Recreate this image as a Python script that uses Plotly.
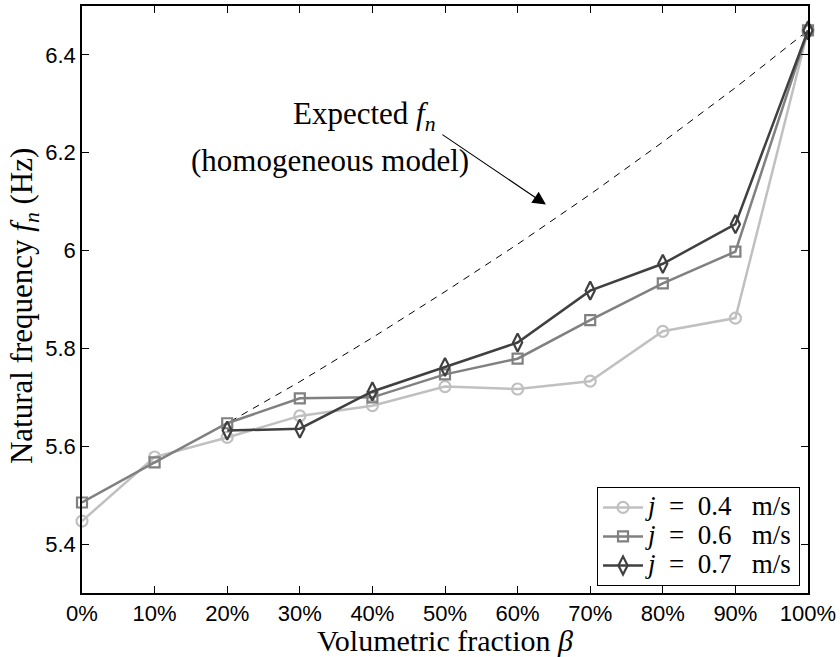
import plotly.graph_objects as go

# ---- data ----
x_pct = [0, 10, 20, 30, 40, 50, 60, 70, 80, 90, 100]
tick_labels = ["0%", "10%", "20%", "30%", "40%", "50%", "60%", "70%", "80%", "90%", "100%"]

f_j04 = [5.447, 5.578, 5.618, 5.662, 5.683, 5.722, 5.717, 5.733, 5.835, 5.862, 6.45]
f_j06 = [5.485, 5.567, 5.647, 5.698, 5.700, 5.747, 5.779, 5.858, 5.933, 5.998, 6.45]
x_j07 = [20, 30, 40, 50, 60, 70, 80, 90, 100]
f_j07 = [5.632, 5.636, 5.712, 5.762, 5.812, 5.918, 5.973, 6.054, 6.45]

f_expected = [5.485, 5.567, 5.647, 5.732, 5.822, 5.916, 6.013, 6.115, 6.222, 6.333, 6.45]

y_ticks = [5.4, 5.6, 5.8, 6.0, 6.2, 6.4]
y_tick_labels = ["5.4", "5.6", "5.8", "6", "6.2", "6.4"]

j_values = ["0.4", "0.6", "0.7"]

SERIF = "Liberation Serif, Times New Roman, serif"
SANS = "Liberation Sans, Arial, sans-serif"


def legend_name(v):
    return ("<span style='font-size:27px'><i>j</i>&nbsp;&nbsp;=&nbsp;&nbsp;"
            + v + "&nbsp;&nbsp;&nbsp;m/s</span>")


fig = go.Figure()

fig.add_trace(go.Scatter(
    x=x_pct, y=f_expected, mode="lines",
    line=dict(color="black", width=1, dash="7px,6px"),
    showlegend=False, cliponaxis=False))

fig.add_trace(go.Scatter(
    x=x_pct, y=f_j04, mode="lines+markers", name=legend_name(j_values[0]),
    line=dict(color="#c0c0c0", width=2.5),
    marker=dict(symbol="circle-open", size=11, color="#c0c0c0", line=dict(width=2.2)),
    cliponaxis=False))

fig.add_trace(go.Scatter(
    x=x_pct, y=f_j06, mode="lines+markers", name=legend_name(j_values[1]),
    line=dict(color="#808080", width=2.5),
    marker=dict(symbol="square-open", size=10, color="#808080", line=dict(width=2.2)),
    cliponaxis=False))

fig.add_trace(go.Scatter(
    x=x_j07, y=f_j07, mode="lines+markers", name=legend_name(j_values[2]),
    line=dict(color="#404040", width=2.5),
    marker=dict(symbol="diamond-tall-open", size=13, color="#404040", line=dict(width=2.2)),
    cliponaxis=False))

# annotation text and arrow
fig.add_annotation(
    x=0.389, y=0.812, xref="paper", yref="paper",
    text="Expected <i>f<sub>n</sub></i>",
    showarrow=False, font=dict(family=SERIF, size=31, color="black"),
    xanchor="center", yanchor="middle")
fig.add_annotation(
    x=0.342, y=0.737, xref="paper", yref="paper",
    text="(homogeneous model)",
    showarrow=False, font=dict(family=SERIF, size=31, color="black"),
    xanchor="center", yanchor="middle")
fig.add_annotation(
    x=63.9, y=6.094, xref="x", yref="y", text="",
    showarrow=True, ax=-105, ay=-71, arrowhead=2, arrowsize=2.4,
    arrowwidth=1.1, arrowcolor="black")

# y-axis title
fig.add_annotation(
    x=-0.0797, y=0.489, xref="paper", yref="paper",
    text="Natural frequency <i>f<sub>n</sub></i> (Hz)", textangle=-90,
    showarrow=False, font=dict(family=SERIF, size=31, color="black"),
    xanchor="center", yanchor="middle")

fig.update_layout(
    width=840, height=657,
    margin=dict(l=82, r=31, t=4, b=64),
    paper_bgcolor="white", plot_bgcolor="white",
    showlegend=True,
    legend=dict(
        x=0.989, y=0.012, xanchor="right", yanchor="bottom",
        bgcolor="white", bordercolor="black", borderwidth=1,
        font=dict(family=SERIF, size=20, color="black"),
        tracegroupgap=0, itemwidth=40),
)

fig.update_xaxes(
    range=[0, 100], tickmode="array", tickvals=x_pct, ticktext=tick_labels,
    ticks="inside", ticklen=7, tickcolor="black", tickwidth=1,
    showline=True, linecolor="black", linewidth=1.5, mirror="ticks",
    showgrid=False, zeroline=False, ticklabeloverflow="allow",
    tickfont=dict(family=SANS, size=22, color="black"),
    title=dict(text="Volumetric fraction <i>β</i>", standoff=5,
               font=dict(family=SERIF, size=30, color="black")))

fig.update_yaxes(
    range=[5.3, 6.5], tickmode="array", tickvals=y_ticks, ticktext=y_tick_labels,
    ticks="inside", ticklen=7, tickcolor="black", tickwidth=1,
    showline=True, linecolor="black", linewidth=1.5, mirror="ticks",
    showgrid=False, zeroline=False, ticklabeloverflow="allow",
    tickfont=dict(family=SANS, size=22, color="black"))

fig.write_html("out.html")
